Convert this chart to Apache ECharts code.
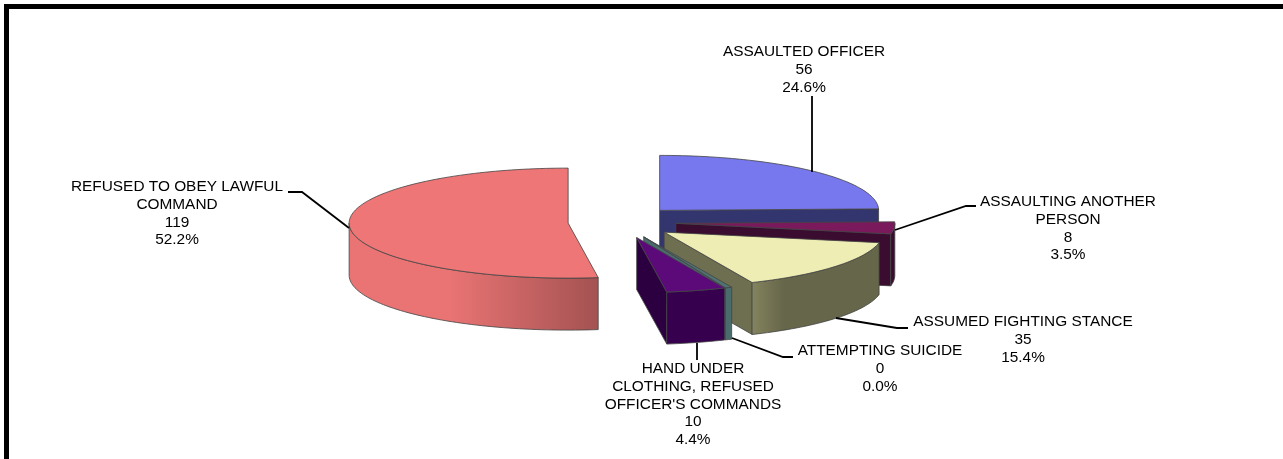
<!DOCTYPE html>
<html><head><meta charset="utf-8">
<style>html,body{margin:0;padding:0;background:#fff}#c{width:1283px;height:459px}</style>
<script src="https://cdn.jsdelivr.net/npm/echarts@6/dist/echarts.min.js"></script>
</head><body><div id="c"></div>
<script>
// data
const nameLines = [
  ['ASSAULTED OFFICER'],
  ['ASSAULTING ANOTHER', 'PERSON'],
  ['ASSUMED FIGHTING STANCE'],
  ['ATTEMPTING SUICIDE'],
  ['HAND UNDER', 'CLOTHING, REFUSED', "OFFICER'S COMMANDS"],
  ['REFUSED TO OBEY LAWFUL', 'COMMAND']
];
const counts = [56, 8, 35, 0, 10, 119];

// styles
const topColors = ['#7878ee', '#7a1a5c', '#eeeeb4', '#4f7272', '#5c0a7a', '#ef7676'];
const sideColors = [
  ['#33366e', '#33366e'], ['#3a0c30', '#3a0c30'], ['#84845f', '#66664a'],
  ['#4a6c6c', '#4a6c6c'], ['#36004e', '#36004e'], ['#ea7474', '#a45252']
];
const cutColors = ['#33366e', '#3a0c30', '#6e6e50', '#4a6c6c', '#2c0040', '#a45252'];

// layout
const CX = 622, CY = 222, RX = 219, RY = 55, DEPTH = 52, EXPLODE = 54, EXPLODE_Y = 0.3;
const MIN_SWEEP = 1.8;
const labelCenters = [[804, 43], [1068, 193], [1023, 313], [880, 342], [693, 360], [177, 178]];
const LINE_H = 17.7;
const leaders = [
  [[812, 96], [812, 172]],
  [[895, 230], [966, 206], [976, 206]],
  [[836, 318], [897, 328], [908, 328]],
  [[732, 338], [783, 357], [793, 357]],
  [[697, 343], [697, 360]],
  [[349, 228], [302, 192], [288, 192]]
];

const total = counts.reduce((a, b) => a + b, 0);
const rad = d => d * Math.PI / 180;
let cum = 0;
const slices = counts.map(v => {
  const sweep = v / total * 360;
  const start = cum; cum += sweep;
  return { start, end: start + sweep, zero: !v };
});

function renderItem(params, api) {
  const i = params.dataIndex;
  const s = slices[i];
  const mid = (s.start + s.end) / 2;
  const ox = CX + EXPLODE * Math.sin(rad(mid));
  const oy = CY - EXPLODE * EXPLODE_Y * Math.cos(rad(mid));
  const a0 = s.start, a1 = s.zero ? s.end + MIN_SWEEP : s.end;
  const pt = (a, dz) => [ox + RX * Math.sin(rad(a)), oy - RY * Math.cos(rad(a)) + (dz || 0)];
  const arc = (p, q, dz) => {
    const out = [], n = Math.max(2, Math.ceil((q - p) / 1.5));
    for (let k = 0; k <= n; k++) out.push(pt(p + (q - p) * k / n, dz));
    return out;
  };
  const edge = { stroke: '#444', lineWidth: 0.8 };
  const kids = [];
  const cut = a => kids.push({
    type: 'polygon',
    shape: { points: [[ox, oy], pt(a), pt(a, DEPTH), [ox, oy + DEPTH]] },
    style: Object.assign({ fill: cutColors[i] }, edge)
  });
  if (Math.cos(rad(a1 + 90)) < 0) cut(a1);
  if (Math.cos(rad(a0 - 90)) < 0) cut(a0);
  const w0 = Math.max(a0, 90), w1 = Math.min(a1, 270);
  if (w1 > w0) {
    kids.push({
      type: 'polygon',
      shape: { points: arc(w0, w1, 0).concat(arc(w0, w1, DEPTH).reverse()) },
      style: Object.assign({
        fill: {
          type: 'linear', x: i === 5 ? 1 : 0, y: 0, x2: i === 5 ? 0 : 1, y2: 0,
          colorStops: i === 5
            ? [{ offset: 0, color: sideColors[i][1] }, { offset: 0.6, color: sideColors[i][0] }, { offset: 1, color: sideColors[i][0] }]
            : [{ offset: 0, color: sideColors[i][0] }, { offset: 0.25, color: sideColors[i][1] }, { offset: 1, color: sideColors[i][1] }]
        }
      }, edge)
    });
  }
  kids.push({
    type: 'polygon',
    shape: { points: [[ox, oy]].concat(arc(a0, a1, 0)) },
    style: Object.assign({ fill: topColors[i] }, edge)
  });
  return { type: 'group', children: kids };
}

const graphics = [{
  type: 'polyline', silent: true, z: 20,
  shape: { points: [[6.5, 470], [6.5, 6.5], [1300, 6.5]] },
  style: { stroke: '#000', lineWidth: 5, fill: null }
}];
leaders.forEach(p => graphics.push({
  type: 'polyline', silent: true, z: 10,
  shape: { points: p }, style: { stroke: '#000', lineWidth: 1.8, fill: null }
}));
counts.forEach((v, i) => {
  const lines = nameLines[i].concat([String(v), (v / total * 100).toFixed(1) + '%']);
  graphics.push({
    type: 'text', silent: true, z: 11,
    x: labelCenters[i][0], y: labelCenters[i][1],
    style: {
      text: lines.join('\n'), fill: '#000', align: 'center', verticalAlign: 'top',
      font: '15.4px "Liberation Sans", Arial, sans-serif', lineHeight: LINE_H
    }
  });
});

const chart = echarts.init(document.getElementById('c'), null, { renderer: 'canvas' });
chart.setOption({
  animation: false,
  backgroundColor: '#fff',
  series: [{
    type: 'custom',
    coordinateSystem: 'none',
    renderItem,
    silent: true,
    data: counts.map((v, i) => ({ name: nameLines[i].join(' '), value: [v] }))
  }],
  graphic: graphics
});
</script></body></html>
